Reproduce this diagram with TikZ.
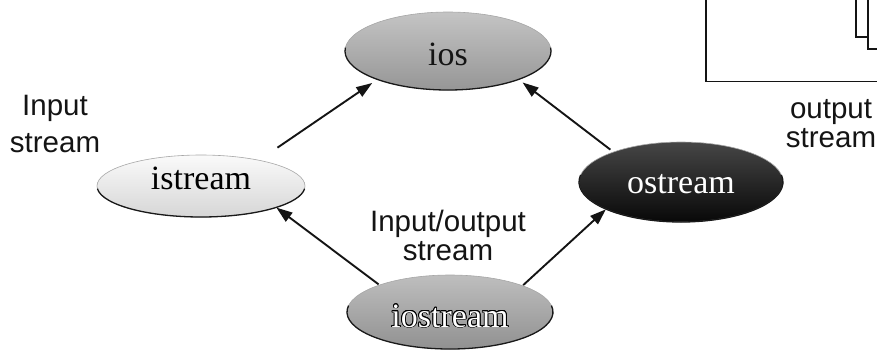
\documentclass[tikz,border=0pt]{standalone}
\usepackage{fontspec}
\setmainfont{Liberation Serif}
\newfontfamily\notefont{Liberation Sans}
\usepackage{contour}
\contourlength{0.8pt}
\usetikzlibrary{arrows.meta,shapes.geometric}

\definecolor{iosTop}{RGB}{196,196,196}
\definecolor{iosBot}{RGB}{150,150,150}
\definecolor{inTop}{RGB}{250,250,250}
\definecolor{inBot}{RGB}{214,214,214}
\definecolor{outTop}{RGB}{70,70,70}
\definecolor{outBot}{RGB}{8,8,8}
\definecolor{ioTop}{RGB}{190,190,190}
\definecolor{ioBot}{RGB}{145,145,145}
\definecolor{rimcol}{RGB}{25,25,25}
\definecolor{inkcol}{RGB}{20,20,20}

\begin{document}
\begin{tikzpicture}[x=1pt,y=-1pt,
  classnode/.style={ellipse, inner sep=0pt, draw=gray!70, line width=0.6pt,
    font=\fontsize{34}{34}\selectfont, text depth=0pt},
  rim/.style={draw=rimcol, line width=1.3pt},
  arr/.style={-{Triangle[length=16pt,width=11pt]}, line width=1.9pt, draw=inkcol, fill=inkcol},
  note/.style={font=\notefont\fontsize{29.5}{29}\selectfont, align=center, inner sep=0pt, text=inkcol},
  frame/.style={draw=inkcol, line width=1.1pt},
  sheet/.style={draw=inkcol, line width=2pt},
]
\useasboundingbox (0,0) rectangle (877,349);
\clip (0,0) rectangle (877,349);

% corner of the neighbouring panel
\draw[frame] (706,-5) -- (706,81.5) -- (882,81.5);
\draw[sheet] (856,-5) -- (856,37) -- (868,37);
\draw[sheet] (868,-5) -- (868,49) -- (882,49);

% class nodes
\node[classnode, minimum width=206pt, minimum height=78pt, top color=iosTop, bottom color=iosBot,
      text=inkcol, text height=28pt] (ios) at (448,51) {ios};
\node[classnode, minimum width=208pt, minimum height=62pt, top color=inTop, bottom color=inBot,
      text=black, text height=6pt] (istream) at (201,186) {istream};
\node[classnode, minimum width=204pt, minimum height=80pt, top color=outTop, bottom color=outBot,
      text=white, text height=22pt] (ostream) at (681,182) {ostream};
\node[classnode, minimum width=206pt, minimum height=74pt, top color=ioTop, bottom color=ioBot,
      text height=30pt] (iostream) at (450,312) {\contour{black}{\textcolor{white}{iostream}}};

% darker lower rims
\draw[rim] (ios.center) ++(175:103pt and 39pt) arc[start angle=175,end angle=365,x radius=103pt,y radius=39pt];
\draw[rim] (istream.center) ++(185:104pt and 31pt) arc[start angle=185,end angle=355,x radius=104pt,y radius=31pt];
\draw[rim] (ostream.center) ++(170:102pt and 40pt) arc[start angle=170,end angle=370,x radius=102pt,y radius=40pt];
\draw[rim] (iostream.center) ++(170:103pt and 37pt) arc[start angle=170,end angle=370,x radius=103pt,y radius=37pt];

% inheritance arrows
\draw[arr, shorten <=22pt, shorten >=6pt] (istream.24.9) -- (ios.202.2);
\draw[arr, shorten <=3.6pt, shorten >=4.7pt] (ostream.156.4) -- (ios.338.5);
\draw[arr, shorten <=0.8pt] (iostream.159.9) -- (istream.344.6);
\draw[arr, shorten <=0.6pt] (iostream.20.4) -- (ostream.200.1);

% captions (base anchor sits on the last line)
\node[note, font=\notefont\fontsize{29.5}{37}\selectfont, anchor=base] (lin) at (55,152) {Input\\stream};
\node[note, anchor=base] (lout) at (831,147) {output\\stream};
\node[note, anchor=base] (lio) at (448,260) {Input/output\\stream};
\end{tikzpicture}
\end{document}
